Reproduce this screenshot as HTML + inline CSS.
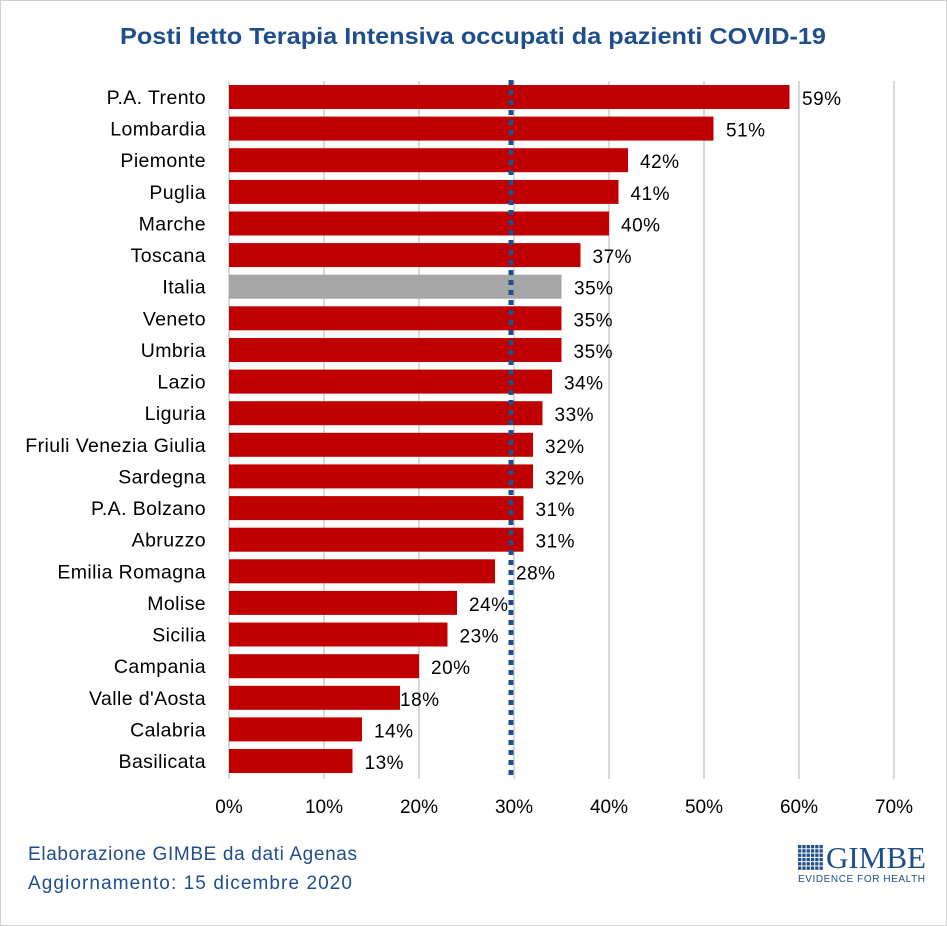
<!DOCTYPE html>
<html><head><meta charset="utf-8"><style>
body{margin:0;background:#fff}
svg{display:block;font-family:"Liberation Sans","DejaVu Sans",sans-serif}
</style></head><body>
<svg width="947" height="926" viewBox="0 0 947 926">
<defs><pattern id="sq" x="798" y="845" width="4.3" height="4.3" patternUnits="userSpaceOnUse"><rect width="3.3" height="3.3" fill="#1f4e8c"/></pattern></defs>
<rect x="0.5" y="0.5" width="946" height="925" fill="#fff" stroke="#d0d0d0"/>
<text x="120" y="44" font-size="23" font-weight="bold" fill="#1f4e8c" textLength="706" lengthAdjust="spacingAndGlyphs">Posti letto Terapia  Intensiva occupati da pazienti COVID-19</text>
<g stroke="#d9d9d9" stroke-width="2">
<line x1="229" y1="81" x2="229" y2="779"/><line x1="324" y1="81" x2="324" y2="779"/><line x1="419" y1="81" x2="419" y2="779"/><line x1="514" y1="81" x2="514" y2="779"/><line x1="609" y1="81" x2="609" y2="779"/><line x1="704" y1="81" x2="704" y2="779"/><line x1="799" y1="81" x2="799" y2="779"/><line x1="894" y1="81" x2="894" y2="779"/>
</g>
<g fill="#c00000">
<rect x="229" y="85" width="560.5" height="24"/>
<rect x="229" y="116.6" width="484.5" height="24"/>
<rect x="229" y="148.2" width="399" height="24"/>
<rect x="229" y="179.9" width="389.5" height="24"/>
<rect x="229" y="211.5" width="380" height="24"/>
<rect x="229" y="243.1" width="351.5" height="24"/>
<rect x="229" y="274.7" width="332.5" height="24" fill="#a6a6a6"/>
<rect x="229" y="306.3" width="332.5" height="24"/>
<rect x="229" y="338" width="332.5" height="24"/>
<rect x="229" y="369.6" width="323" height="24"/>
<rect x="229" y="401.2" width="313.5" height="24"/>
<rect x="229" y="432.8" width="304" height="24"/>
<rect x="229" y="464.4" width="304" height="24"/>
<rect x="229" y="496.1" width="294.5" height="24"/>
<rect x="229" y="527.7" width="294.5" height="24"/>
<rect x="229" y="559.3" width="266" height="24"/>
<rect x="229" y="590.9" width="228" height="24"/>
<rect x="229" y="622.5" width="218.5" height="24"/>
<rect x="229" y="654.2" width="190" height="24"/>
<rect x="229" y="685.8" width="171" height="24"/>
<rect x="229" y="717.4" width="133" height="24"/>
<rect x="229" y="749" width="123.5" height="24"/>
</g>
<g font-size="19.5" letter-spacing="0.4" fill="#000" text-anchor="end">
<text x="206" y="104">P.A. Trento</text>
<text x="206" y="135.6">Lombardia</text>
<text x="206" y="167.2">Piemonte</text>
<text x="206" y="198.9">Puglia</text>
<text x="206" y="230.5">Marche</text>
<text x="206" y="262.1">Toscana</text>
<text x="206" y="293.7">Italia</text>
<text x="206" y="325.3">Veneto</text>
<text x="206" y="357">Umbria</text>
<text x="206" y="388.6">Lazio</text>
<text x="206" y="420.2">Liguria</text>
<text x="206" y="451.8">Friuli Venezia Giulia</text>
<text x="206" y="483.4">Sardegna</text>
<text x="206" y="515.1">P.A. Bolzano</text>
<text x="206" y="546.7">Abruzzo</text>
<text x="206" y="578.3">Emilia Romagna</text>
<text x="206" y="609.9">Molise</text>
<text x="206" y="641.5">Sicilia</text>
<text x="206" y="673.2">Campania</text>
<text x="206" y="704.8">Valle d'Aosta</text>
<text x="206" y="736.4">Calabria</text>
<text x="206" y="768">Basilicata</text>
</g>
<g font-size="19" letter-spacing="0.5" fill="#000">
<text x="802" y="105">59%</text>
<text x="726" y="136.6">51%</text>
<text x="640" y="168.2">42%</text>
<text x="630.5" y="199.9">41%</text>
<text x="621" y="231.5">40%</text>
<text x="592.5" y="263.1">37%</text>
<text x="574" y="294.7">35%</text>
<text x="573.5" y="326.3">35%</text>
<text x="573.5" y="358">35%</text>
<text x="564" y="389.6">34%</text>
<text x="554.5" y="421.2">33%</text>
<text x="545" y="452.8">32%</text>
<text x="545" y="484.4">32%</text>
<text x="535.5" y="516.1">31%</text>
<text x="535.5" y="547.7">31%</text>
<text x="516" y="579.3">28%</text>
<text x="469" y="610.9">24%</text>
<text x="459.5" y="642.5">23%</text>
<text x="431" y="674.2">20%</text>
<text x="400" y="705.8">18%</text>
<text x="374" y="737.4">14%</text>
<text x="364.5" y="769">13%</text>
</g>
<line x1="511" y1="80" x2="511" y2="779" stroke="#1f4e8c" stroke-width="5" stroke-dasharray="5,5"/>
<g font-size="19" text-anchor="middle" fill="#000">
<text x="229" y="813">0%</text><text x="324" y="813">10%</text><text x="419" y="813">20%</text><text x="514" y="813">30%</text><text x="609" y="813">40%</text><text x="704" y="813">50%</text><text x="799" y="813">60%</text><text x="894" y="813">70%</text>
</g>
<text x="28" y="860" font-size="19" fill="#1f4e8c" textLength="329" lengthAdjust="spacing">Elaborazione GIMBE da dati Agenas</text>
<text x="28" y="889" font-size="19" fill="#1f4e8c" textLength="324" lengthAdjust="spacing">Aggiornamento: 15 dicembre 2020</text>
<rect x="798" y="845" width="25.5" height="25.5" fill="url(#sq)"/>
<g fill="#1f4e8c">
<text x="826" y="868" font-family="Liberation Serif,serif" font-size="31" textLength="100" lengthAdjust="spacingAndGlyphs">GIMBE</text>
<text x="798" y="882" font-size="10" textLength="127" lengthAdjust="spacing">EVIDENCE FOR HEALTH</text>
</g>
</svg>
</body></html>
